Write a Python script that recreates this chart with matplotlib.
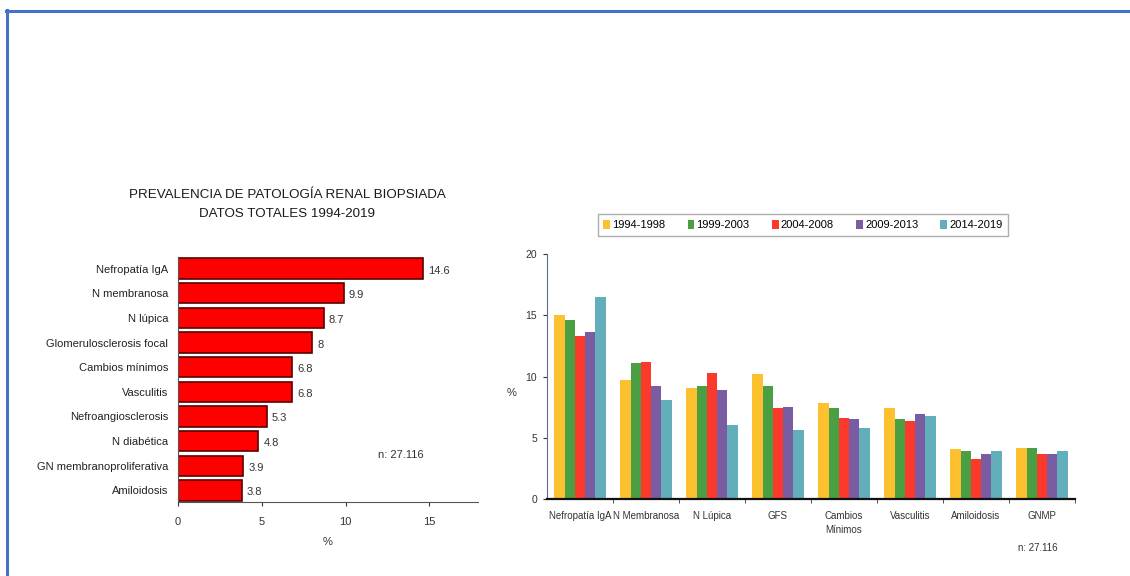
import matplotlib.pyplot as plt
import numpy as np
from matplotlib.lines import Line2D
from matplotlib.patches import Patch

# left chart: total prevalence 1994-2019
diagnoses = ["Nefropatía IgA", "N membranosa", "N lúpica", "Glomerulosclerosis focal",
             "Cambios mínimos", "Vasculitis", "Nefroangiosclerosis", "N diabética",
             "GN membranoproliferativa", "Amiloidosis"]
totals = [14.6, 9.9, 8.7, 8, 6.8, 6.8, 5.3, 4.8, 3.9, 3.8]
total_labels = ["14.6", "9.9", "8.7", "8", "6.8", "6.8", "5.3", "4.8", "3.9", "3.8"]

# right chart: by period
groups = ["Nefropatía IgA", "N Membranosa", "N Lúpica", "GFS", "Cambios\nMínimos",
          "Vasculitis", "Amiloidosis", "GNMP"]
periods = ["1994-1998", "1999-2003", "2004-2008", "2009-2013", "2014-2019"]
p1994 = [15.0, 9.7, 9.1, 10.2, 7.8, 7.4, 4.1, 4.2]
p1999 = [14.6, 11.1, 9.2, 9.2, 7.4, 6.5, 3.9, 4.2]
p2004 = [13.3, 11.2, 10.3, 7.4, 6.6, 6.4, 3.3, 3.7]
p2009 = [13.6, 9.2, 8.9, 7.5, 6.5, 6.9, 3.7, 3.7]
p2014 = [16.5, 8.1, 6.0, 5.6, 5.8, 6.8, 3.9, 3.9]
series = [p1994, p1999, p2004, p2009, p2014]
colors = ["#fdc02f", "#4a9f43", "#fb3a2c", "#7a5ca3", "#62aebb"]

plt.rcParams['font.family'] = ['Liberation Sans', 'DejaVu Sans']

fig = plt.figure(figsize=(11.3, 5.76), dpi=100)

# ---- left chart
ax = fig.add_axes([0.1575, 0.1285, 0.2655, 0.4253])
ypos = np.arange(len(diagnoses))
ax.barh(ypos, totals, height=0.82, color="#ff0000", edgecolor="#5a0000", linewidth=1.2)
for y, v, s in zip(ypos, totals, total_labels):
    ax.text(v + 0.3, y + 0.08, s, va="center", ha="left", fontsize=8, color="#333333")
ax.set_yticks(ypos)
ax.set_yticklabels(diagnoses, fontsize=8, color="#222222")
ax.set_ylim(9.47, -0.47)
ax.set_xlim(0, 17.9)
ax.set_xticks([0, 5, 10, 15])
ax.tick_params(axis="x", labelsize=8, length=3, colors="#333333", pad=8)
ax.tick_params(axis="y", length=0, pad=7)
for s in ["top", "right"]:
    ax.spines[s].set_visible(False)
ax.spines["left"].set_color("#555555")
ax.spines["bottom"].set_color("#555555")
ax.set_xlabel("%", fontsize=8, color="#333333", labelpad=7)
fig.text(378 / 1130, 1 - 455 / 576, "n: 27.116", fontsize=8, color="#333333", va="center")
fig.text(287 / 1130, 1 - 195 / 576, "PREVALENCIA DE PATOLOGÍA RENAL BIOPSIADA",
         fontsize=9.6, ha="center", va="center", color="#1a1a1a")
fig.text(287 / 1130, 1 - 214 / 576, "DATOS TOTALES 1994-2019",
         fontsize=9.6, ha="center", va="center", color="#1a1a1a")

# ---- right chart
ax2 = fig.add_axes([547 / 1130, 0.1337, 528 / 1130, 0.4253])
x = np.arange(len(groups))
w = 0.155
for i, (vals, c) in enumerate(zip(series, colors)):
    ax2.bar(x + (i - 2) * w, vals, width=w, color=c, label=periods[i])
ax2.set_xlim(-0.5, len(groups) - 0.5)
ax2.set_ylim(0, 20)
ax2.set_yticks([0, 5, 10, 15, 20])
ax2.set_xticks(x)
ax2.set_xticklabels(groups, fontsize=7, color="#333333", va="top", linespacing=1.5)
ax2.set_xticks(np.arange(len(groups)) + 0.5, minor=True)
ax2.tick_params(axis="x", which="major", length=0, pad=9)
ax2.tick_params(axis="x", which="minor", length=3, color="#333333")
ax2.tick_params(axis="y", labelsize=7.5, length=3, colors="#333333", pad=4)
for s in ["top", "right"]:
    ax2.spines[s].set_visible(False)
ax2.spines["left"].set_color("#5a6a8a")
ax2.spines["bottom"].set_color("#111111")
ax2.spines["bottom"].set_linewidth(1.6)
fig.text(512 / 1130, 1 - 393 / 576, "%", fontsize=8, color="#333333", va="center", ha="center")
fig.text(1018 / 1130, 1 - 548 / 576, "n: 27.116", fontsize=7, color="#333333", va="center")

handles = [Patch(facecolor=c, edgecolor="none") for c in colors]
leg = fig.legend(handles, periods, loc="center", bbox_to_anchor=(803 / 1130, 1 - 225 / 576),
                 ncol=5, frameon=True, fancybox=False, shadow=False,
                 prop={"size": 8}, handlelength=0.6, handleheight=0.9,
                 handletextpad=0.2, columnspacing=2.0, borderpad=0.5)
leg.get_frame().set_edgecolor("#999999")
leg.get_frame().set_linewidth(1.0)

# blue frame of the slide
fig.add_artist(Line2D([6 / 1130, 1], [1 - 10.5 / 576, 1 - 10.5 / 576], color="#4472c4", lw=2.2))
fig.add_artist(Line2D([6.5 / 1130, 6.5 / 1130], [0, 1 - 10 / 576], color="#4472c4", lw=2.2))

fig.savefig("out.png", dpi=100)
